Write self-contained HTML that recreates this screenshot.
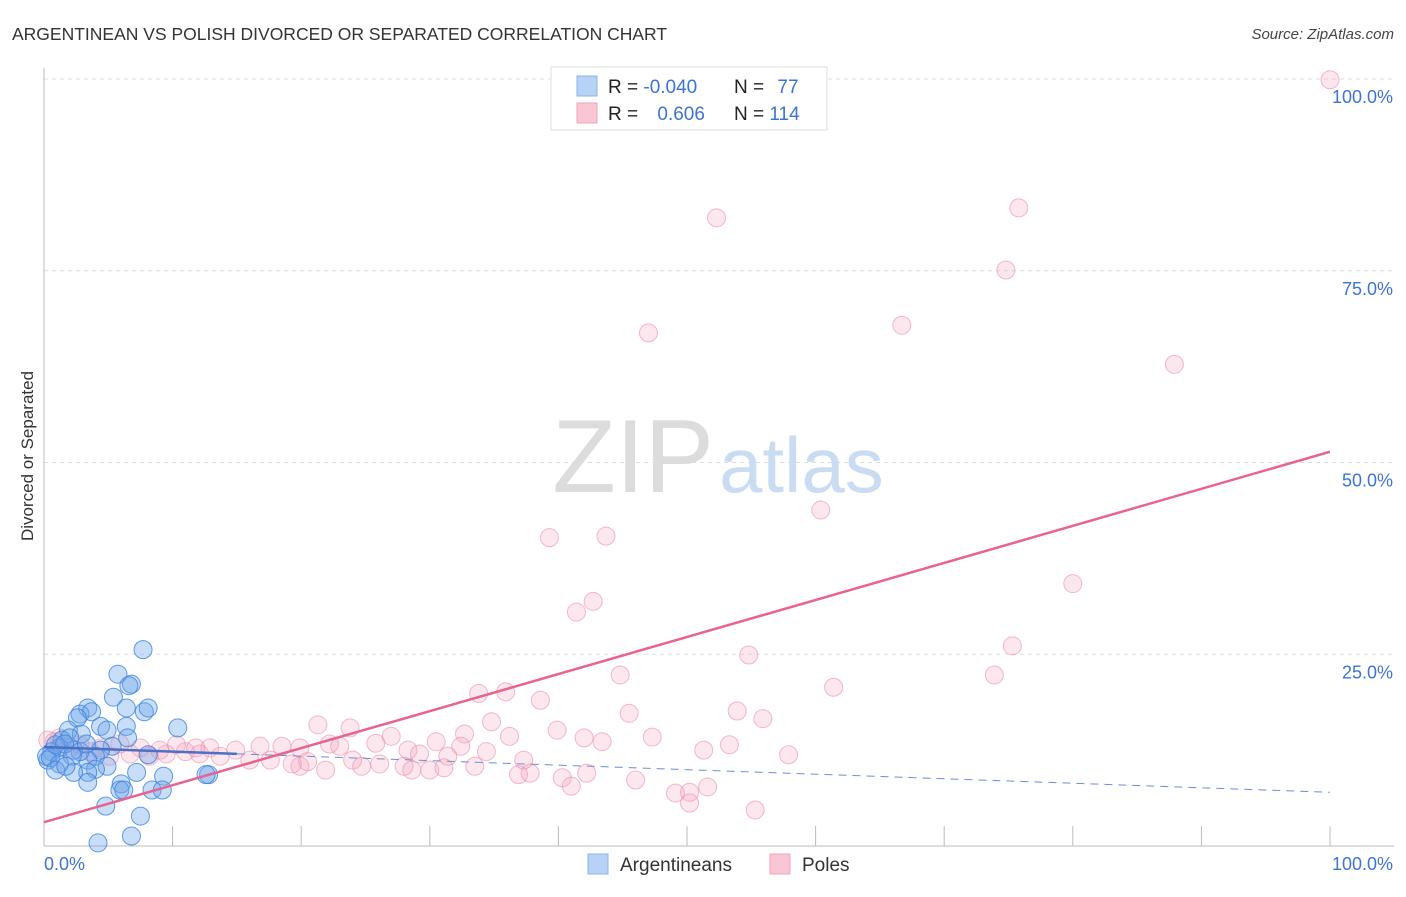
<!DOCTYPE html>
<html><head><meta charset="utf-8"><style>
body{margin:0;background:#fff;font-family:"Liberation Sans",sans-serif;}
svg text{font-family:"Liberation Sans",sans-serif;}
</style></head><body>
<svg id="chart" width="1406" height="892" viewBox="0 0 1406 892" xmlns="http://www.w3.org/2000/svg">
<text x="12" y="40" font-size="17.5" fill="#333">ARGENTINEAN VS POLISH DIVORCED OR SEPARATED CORRELATION CHART</text>
<text x="1394" y="39" font-size="15" fill="#444" font-style="italic" text-anchor="end">Source: ZipAtlas.com</text>
<text transform="translate(33,456) rotate(-90)" font-size="17" fill="#333" text-anchor="middle">Divorced or Separated</text>
<g id="grid"></g>
<text x="714" y="492" font-size="104" text-anchor="end" fill="#dcdcdc" font-family="Liberation Serif,serif">ZIP</text>
<text x="719" y="492" font-size="78" fill="#c9dcf2">atlas</text>
<g id="pink"></g><g id="blue"></g><g id="lines"></g>
<g>
<rect x="551" y="67" width="276" height="63" fill="#fff" stroke="#ddd"/>
<rect x="577" y="76" width="20" height="20" fill="#b7d2f5" stroke="#8ab4ea"/>
<rect x="577" y="103" width="20" height="20" fill="#f9c6d5" stroke="#f2a3ba"/>
<text x="608" y="93" font-size="19" fill="#222">R = <tspan fill="#3d74d1">-0.040</tspan></text>
<text x="734" y="93" font-size="19" fill="#222">N = <tspan fill="#3d74d1" dx="8">77</tspan></text>
<text x="608" y="120" font-size="19" fill="#222">R = <tspan fill="#3d74d1" dx="14">0.606</tspan></text>
<text x="734" y="120" font-size="19" fill="#222">N = <tspan fill="#3d74d1">114</tspan></text>
</g>
<g>
<rect x="588" y="854" width="20" height="20" fill="#b7d2f5" stroke="#8ab4ea"/>
<text x="620" y="871" font-size="19" fill="#333">Argentineans</text>
<rect x="770" y="854" width="20" height="20" fill="#f9c6d5" stroke="#f2a3ba"/>
<text x="802" y="871" font-size="19" fill="#333">Poles</text>
</g>
</svg>
<script>
const yTicks=[25,50,75,100];
const yTickLabels=["25.0%","50.0%","75.0%","100.0%"];
const xTicks=[0,10,20,30,40,50,60,70,80,90,100];
const xEndLabels=["0.0%","100.0%"];
const blueX=[7.7,5.75,6.8,6.6,5.4,6.4,7.8,8.1,10.4,3.4,2.8,3.7,2.6,6.4,4.4,4.9,1.9,2.9,1.4,2.0,6.5,5.3,4.4,4.0,3.4,2.8,2.3,1.2,0.6,0.3,0.2,0.5,0.9,1.6,2.2,3.3,8.1,12.8,12.6,9.3,7.2,4.9,4.0,3.4,2.3,6.0,5.9,6.2,8.4,9.2,3.4,4.8,7.5,6.8,4.2,1.2,0.9,1.7];
const blueY=[25.6,22.4,21.1,20.9,19.4,18.0,17.5,18.0,15.4,18.0,17.2,17.5,16.7,15.6,15.6,15.1,15.1,14.6,13.8,14.1,14.1,13.0,12.5,11.7,11.2,12.3,12.5,12.8,12.3,11.2,11.7,11.5,13.2,13.3,11.7,13.3,11.9,9.3,9.3,9.1,9.6,10.4,10.0,9.6,9.6,8.1,7.3,7.3,7.3,7.3,8.3,5.2,3.9,1.3,0.4,10.7,9.9,10.4];
const pinkX=[100,52.3,75.8,74.8,47.0,66.7,87.9,60.4,39.3,43.7,80.0,42.7,41.4,75.3,54.8,73.9,44.8,61.4,35.9,33.8,38.6,45.5,53.9,55.9,21.3,34.8,23.8,39.9,47.3,32.7,42.0,27.0,43.4,53.3,51.3,36.2,30.5,32.4,25.8,22.2,23.0,19.9,18.5,16.8,14.9,12.9,11.0,9.5,8.2,6.7,5.1,3.6,2.0,0.8,57.9,34.4,37.3,28.3,29.2,31.4,24.0,24.7,26.1,28.0,28.6,30.0,31.1,33.5,19.9,21.9,20.5,19.3,17.6,16.0,13.7,12.1,36.9,37.8,42.2,40.3,41.0,46.0,49.1,50.2,51.6,50.2,55.3,1.2,0.3,2.8,4.4,5.9,7.5,9.0,10.3,11.8];
const pinkY=[99.9,81.9,83.2,75.1,66.9,67.9,62.8,43.8,40.2,40.4,34.2,31.9,30.5,26.1,24.9,22.3,22.3,20.7,20.1,19.9,19.0,17.3,17.6,16.6,15.8,16.2,15.4,15.1,14.2,14.6,14.1,14.3,13.6,13.2,12.5,14.3,13.6,13.0,13.4,13.3,13.0,12.8,13.0,13.0,12.5,12.8,12.3,12.0,11.7,12.0,11.7,12.3,12.8,13.6,11.9,12.3,11.2,12.5,12.0,11.7,11.2,10.4,10.7,10.4,9.9,9.9,10.2,10.4,10.4,9.9,11.0,10.7,11.2,11.2,11.7,12.0,9.3,9.5,9.5,8.9,7.8,8.6,6.9,7.0,7.7,5.6,4.7,14.1,13.8,13.2,12.8,13.3,12.8,12.5,13.2,12.8];
const blueTrend=[12.9,7.0];
const pinkTrend=[3.1,51.4];
const NS="http://www.w3.org/2000/svg";
const X0=44,X1=1330,Y0=846,Y1=79;
const sx=v=>X0+(X1-X0)*v/100, sy=v=>Y0-(Y0-Y1)*v/100;
function mk(t,a,p){const e=document.createElementNS(NS,t);for(const k in a)e.setAttribute(k,a[k]);p.appendChild(e);return e;}
const grid=document.getElementById('grid');
yTicks.forEach((t,i)=>{
 const l=mk('line',{x1:X0,x2:1394,y1:sy(t),y2:sy(t),stroke:'#ddd','stroke-dasharray':'4,4'},grid);
 
 
 const tx=mk('text',{x:1393,y:sy(t)+24,'font-size':18,fill:'#3d74d1','text-anchor':'end'},grid);
 tx.textContent=yTickLabels[i];
 
 
});
const ax=mk('line',{x1:X0,x2:X0,y1:68,y2:Y0,stroke:'#bbb'},grid);


const bx=mk('line',{x1:X0,x2:1394,y1:Y0,y2:Y0,stroke:'#bbb'},grid);


xTicks.forEach(t=>{
 const l=mk('line',{x1:sx(t),x2:sx(t),y1:826,y2:Y0,stroke:'#bbb'},grid);
 
 
});
const xl0=mk('text',{x:44,y:870,'font-size':18,fill:'#3d74d1'},grid);xl0.textContent=xEndLabels[0];


const xl1=mk('text',{x:1393,y:870,'font-size':18,fill:'#3d74d1','text-anchor':'end'},grid);xl1.textContent=xEndLabels[1];


const pg=document.getElementById('pink'),bg=document.getElementById('blue'),lg=document.getElementById('lines');
pinkX.forEach((x,i)=>{
 const c=mk('circle',{cx:sx(x),cy:sy(pinkY[i]),r:9,fill:'rgba(244,160,186,0.25)',stroke:'rgba(236,140,170,0.6)','stroke-width':1},pg);
 
 
});
blueX.forEach((x,i)=>{
 const c=mk('circle',{cx:sx(x),cy:sy(blueY[i]),r:9,fill:'rgba(110,165,235,0.38)',stroke:'rgba(60,130,220,0.8)','stroke-width':1},bg);
 
 
});
const by=x=>blueTrend[0]+(blueTrend[1]-blueTrend[0])*x/100;
const b1=mk('line',{x1:sx(0),y1:sy(by(0)),x2:sx(15),y2:sy(by(15)),stroke:'#4a70c8','stroke-width':2.5},lg);


const b2=mk('line',{x1:sx(15),y1:sy(by(15)),x2:sx(100),y2:sy(by(100)),stroke:'#6a90d0','stroke-width':1,'stroke-dasharray':'8,6'},lg);


const p1=mk('line',{x1:sx(0),y1:sy(pinkTrend[0]),x2:sx(100),y2:sy(pinkTrend[1]),stroke:'#e8638f','stroke-width':2.5},lg);


</script>
</body></html>
